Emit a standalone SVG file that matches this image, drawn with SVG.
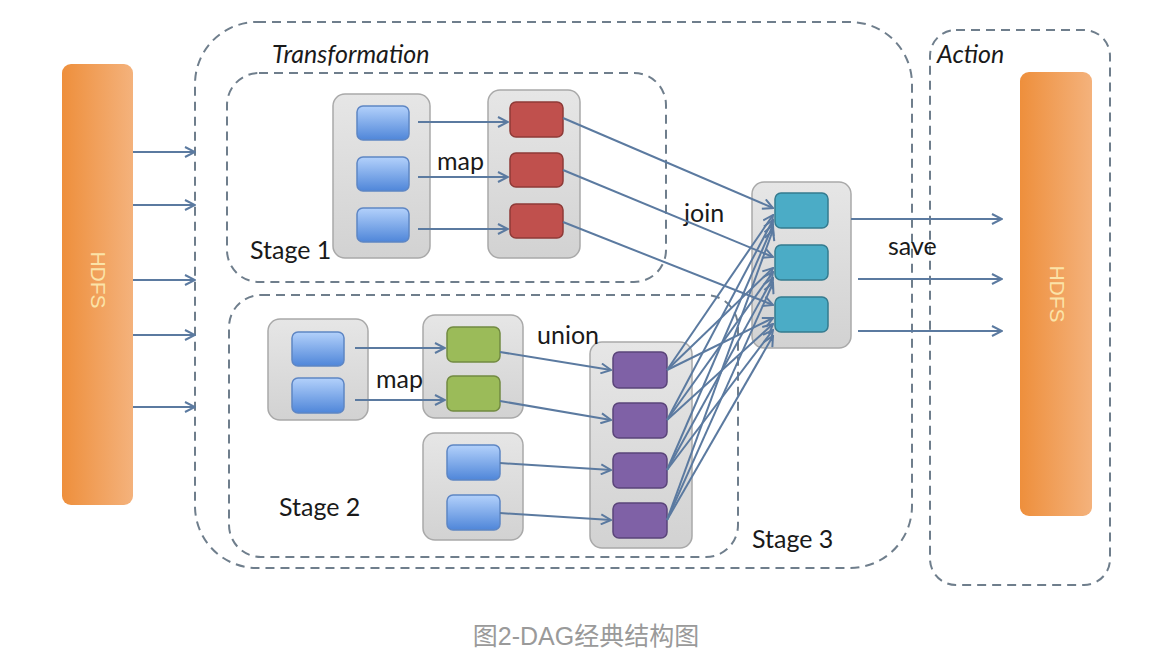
<svg xmlns="http://www.w3.org/2000/svg" width="1174" height="670" viewBox="0 0 1174 670">
<defs>
<linearGradient id="orange" x1="0" y1="0" x2="1" y2="0">
<stop offset="0" stop-color="#ee8f3c"/><stop offset="1" stop-color="#f4b27c"/>
</linearGradient>
<linearGradient id="blue" x1="0" y1="0" x2="0" y2="1">
<stop offset="0" stop-color="#b3d1fb"/><stop offset="1" stop-color="#4f86d9"/>
</linearGradient>
<linearGradient id="grp" x1="0" y1="0" x2="0" y2="1">
<stop offset="0" stop-color="#e6e6e6"/><stop offset="1" stop-color="#d2d2d2"/>
</linearGradient>
<marker id="arr" viewBox="0 0 12 12" refX="11" refY="6" markerWidth="12" markerHeight="12" markerUnits="userSpaceOnUse" orient="auto">
<path d="M1,1 L11,6 L1,11" fill="none" stroke="#5b7aa0" stroke-width="2"/>
</marker>
<style>
.dash{fill:none;stroke:#6f7e8c;stroke-width:2;stroke-dasharray:9 6}
.grp{fill:url(#grp);stroke:#a9a9a9;stroke-width:1.5}
.blue{fill:url(#blue);stroke:#5e86c4;stroke-width:1.5}
.red{fill:#c0504d;stroke:#8e3a37;stroke-width:1.5}
.green{fill:#9bbb59;stroke:#728a41;stroke-width:1.5}
.purple{fill:#7f61a6;stroke:#5a4479;stroke-width:1.5}
.cyan{fill:#4bacc6;stroke:#357b8f;stroke-width:1.5}
.bar{fill:url(#orange)}
.lbl{font-family:Lato,"Open Sans","Liberation Sans",sans-serif;font-size:25px;fill:#1a1a1a}
.it{font-family:Lato,"Open Sans","Liberation Sans",sans-serif;font-size:25px;font-style:italic;fill:#1a1a1a}
.hdfs{font-family:"Liberation Sans",sans-serif;font-size:21px;fill:#fbe3a8}
.cap{font-family:"Liberation Sans","Noto Sans CJK SC",sans-serif;font-size:25px;fill:#9a9a9a}
#connectors line{stroke:#5b7aa0;stroke-width:2;marker-end:url(#arr)}
</style>
</defs>
<rect width="1174" height="670" fill="#ffffff"/>

<g id="transformation">
<rect class="dash" x="195" y="22" width="717" height="546" rx="62" ry="62"/>
<text class="it" x="272" y="63">Transformation</text>
</g>
<g id="action">
<rect class="dash" x="930" y="30" width="180" height="555" rx="26" ry="26"/>
<text class="it" x="937" y="63">Action</text>
</g>
<g id="stage1">
<rect class="dash" x="227" y="73" width="439" height="209" rx="32" ry="32"/>
<text class="lbl" x="250" y="259">Stage 1</text>
</g>
<g id="stage2">
<rect class="dash" x="229" y="295" width="509" height="262" rx="32" ry="32"/>
<text class="lbl" x="279" y="516">Stage 2</text>
</g>
<g id="stage3">
<text class="lbl" x="752" y="548">Stage 3</text>
</g>

<g id="hdfs-in">
<rect class="bar" x="62" y="64" width="71" height="441" rx="9" ry="9"/>
<text class="hdfs" x="97" y="280" text-anchor="middle" transform="rotate(90 97 280)" dominant-baseline="middle">HDFS</text>
</g>
<g id="hdfs-out">
<rect class="bar" x="1020" y="72" width="72" height="444" rx="9" ry="9"/>
<text class="hdfs" x="1056" y="294" text-anchor="middle" transform="rotate(90 1056 294)" dominant-baseline="middle">HDFS</text>
</g>

<g id="s1-input">
<rect class="grp" x="333" y="94" width="97" height="164" rx="12" ry="12"/>
<rect class="blue" x="357" y="106" width="52" height="34" rx="6" ry="6"/>
<rect class="blue" x="357" y="157" width="52" height="34" rx="6" ry="6"/>
<rect class="blue" x="357" y="208" width="52" height="34" rx="6" ry="6"/>
</g>
<g id="s1-map">
<rect class="grp" x="488" y="90" width="92" height="168" rx="12" ry="12"/>
<rect class="red" x="510" y="102" width="53" height="35" rx="6" ry="6"/>
<rect class="red" x="510" y="153" width="53" height="34" rx="6" ry="6"/>
<rect class="red" x="510" y="204" width="53" height="34" rx="6" ry="6"/>
</g>
<g id="s2-inputA">
<rect class="grp" x="268" y="319" width="100" height="101" rx="12" ry="12"/>
<rect class="blue" x="292" y="332" width="52" height="34" rx="6" ry="6"/>
<rect class="blue" x="292" y="378" width="52" height="35" rx="6" ry="6"/>
</g>
<g id="s2-map">
<rect class="grp" x="423" y="315" width="100" height="103" rx="12" ry="12"/>
<rect class="green" x="447" y="327" width="53" height="35" rx="6" ry="6"/>
<rect class="green" x="447" y="376" width="53" height="35" rx="6" ry="6"/>
</g>
<g id="s2-inputB">
<rect class="grp" x="423" y="433" width="100" height="107" rx="12" ry="12"/>
<rect class="blue" x="447" y="445" width="53" height="35" rx="6" ry="6"/>
<rect class="blue" x="447" y="495" width="53" height="35" rx="6" ry="6"/>
</g>
<g id="s2-union">
<rect class="grp" x="590" y="342" width="102" height="206" rx="12" ry="12"/>
<rect class="purple" x="613" y="352" width="54" height="36" rx="6" ry="6"/>
<rect class="purple" x="613" y="403" width="54" height="35" rx="6" ry="6"/>
<rect class="purple" x="613" y="453" width="54" height="35" rx="6" ry="6"/>
<rect class="purple" x="613" y="503" width="54" height="35" rx="6" ry="6"/>
</g>
<g id="s3-join">
<rect class="grp" x="752" y="182" width="99" height="166" rx="12" ry="12"/>
<rect class="cyan" x="775" y="193" width="53" height="35" rx="6" ry="6"/>
<rect class="cyan" x="775" y="245" width="53" height="35" rx="6" ry="6"/>
<rect class="cyan" x="775" y="297" width="53" height="35" rx="6" ry="6"/>
</g>

<g id="labels">
<text class="lbl" x="437" y="170">map</text>
<text class="lbl" x="376" y="388">map</text>
<text class="lbl" x="537" y="344">union</text>
<text class="lbl" x="684" y="222">join</text>
<text class="lbl" x="888" y="255">save</text>
</g>

<g id="connectors">
<line x1="133" y1="152" x2="195" y2="152"/>
<line x1="133" y1="205" x2="195" y2="205"/>
<line x1="133" y1="280" x2="195" y2="280"/>
<line x1="133" y1="335" x2="195" y2="335"/>
<line x1="133" y1="407" x2="195" y2="407"/>

<line x1="418" y1="122" x2="508" y2="122"/>
<line x1="418" y1="177" x2="508" y2="177"/>
<line x1="418" y1="229" x2="508" y2="229"/>

<line x1="355" y1="348" x2="445" y2="348"/>
<line x1="355" y1="400" x2="445" y2="400"/>
<line x1="500" y1="352" x2="611" y2="370"/>
<line x1="500" y1="401" x2="611" y2="420"/>
<line x1="500" y1="463" x2="611" y2="470"/>
<line x1="500" y1="513" x2="611" y2="520"/>

<line x1="563" y1="118" x2="773" y2="208"/>
<line x1="563" y1="170" x2="773" y2="257"/>
<line x1="563" y1="222" x2="773" y2="305"/>

<line x1="667" y1="370" x2="773" y2="215"/>
<line x1="667" y1="370" x2="773" y2="268"/>
<line x1="667" y1="370" x2="773" y2="318"/>
<line x1="667" y1="420" x2="773" y2="220"/>
<line x1="667" y1="420" x2="773" y2="272"/>
<line x1="667" y1="420" x2="773" y2="324"/>
<line x1="667" y1="470" x2="773" y2="225"/>
<line x1="667" y1="470" x2="773" y2="278"/>
<line x1="667" y1="470" x2="773" y2="330"/>
<line x1="667" y1="520" x2="773" y2="230"/>
<line x1="667" y1="520" x2="773" y2="283"/>
<line x1="667" y1="520" x2="773" y2="336"/>

<line x1="851" y1="219" x2="1002" y2="219"/>
<line x1="858" y1="279" x2="1002" y2="279"/>
<line x1="858" y1="331" x2="1002" y2="331"/>
</g>

<g id="caption">
<text class="cap" x="586" y="645" text-anchor="middle">图2-DAG经典结构图</text>
</g>
</svg>
